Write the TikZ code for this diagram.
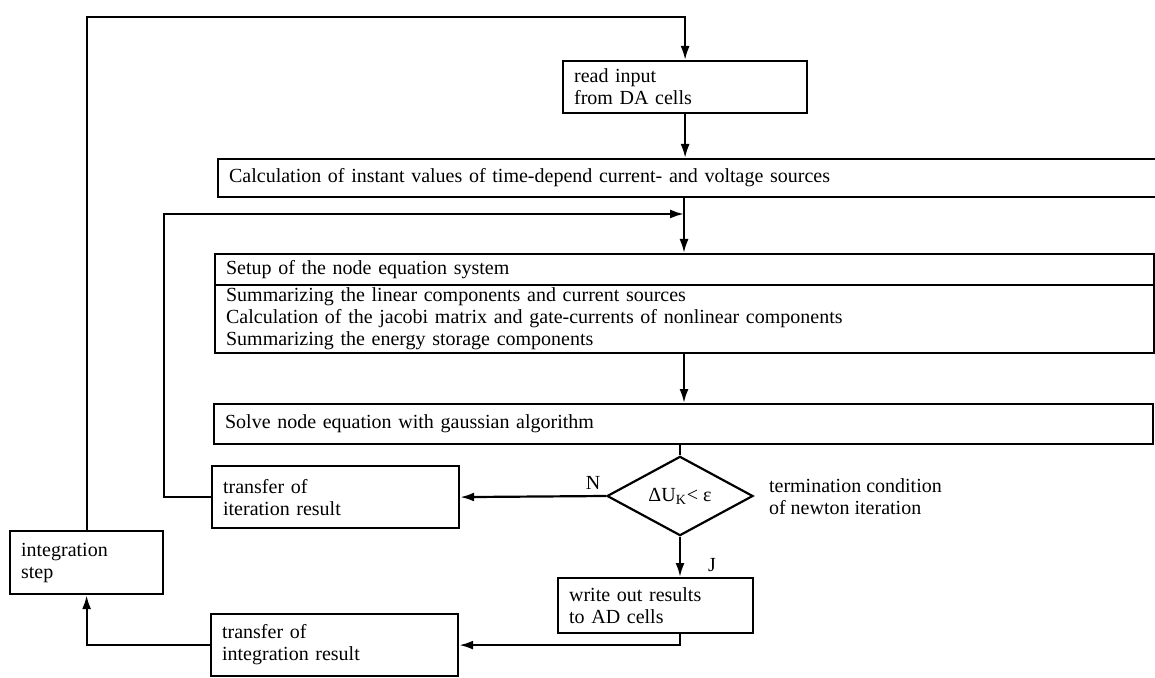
\documentclass[tikz,border=0pt]{standalone}
\usepackage{fontspec}
\setmainfont{Liberation Serif}
\usetikzlibrary{shapes.geometric,arrows.meta}
\tikzset{
    box/.style={draw, line width=1.1pt, anchor=north west, align=left,
        inner xsep=5.5pt, inner ysep=0pt},
    flow/.style={line width=1.1pt, -{Latex[length=7pt,width=4.5pt]}},
}

\begin{document}
\begin{tikzpicture}[x=0.5pt, y=-0.5pt, font=\fontsize{10}{11}\selectfont]
    \useasboundingbox (0,0) rectangle (1155,678);
    \clip (0,0) rectangle (1155,678);
    \coordinate (Col) at (684,0);
    \coordinate (TopRail) at (0,17);
    \coordinate (LoopRail) at (164,214);
    % boxes
    \node[box, text width=111pt, minimum height=26pt] (ReadIn) at (562,60) {read input\\from DA cells};
    \node[box, text width=465.5pt, minimum height=19pt] (CalcSrc) at (217,158)
        {Calculation of instant values of time-depend current- and voltage sources};
    \node[box, text width=458.5pt, minimum height=15.5pt] (SetupHead) at (214,253)
        {Setup of the node equation system};
    \node[box, text width=458.5pt, minimum height=34pt] (SetupBody) at ([yshift=1.1pt]SetupHead.south west)
        {Summarizing the linear components and current sources\\
         Calculation of the jacobi matrix and gate-currents of nonlinear components\\
         Summarizing the energy storage components};
    \node[box, text width=458.5pt, minimum height=20pt] (Solve) at (213,403)
        {Solve node equation with gaussian algorithm};
    \node[diamond, draw, line width=1.1pt, inner sep=0pt, minimum width=73pt, minimum height=37pt]
        (Check) at (680,496) {ΔU\textsubscript{K}< ε};
    \node[box, text width=112.5pt, minimum height=31pt] (IterRes) at (211,465) {transfer of\\iteration result};
    \node[box, text width=65.5pt, minimum height=31.5pt] (IntStep) at (9,530) {integration\\step};
    \node[box, text width=86.5pt, minimum height=27.5pt] (WriteOut) at (557,577) {write out results\\to AD cells};
    \node[box, text width=112.5pt, minimum height=31pt] (IntRes) at (210,613) {transfer of\\integration result};
    \node (LabN) at (593,483) {N};
    \node (LabJ) at (712,565) {J};
    \node[anchor=west, align=left] (TermNote) at (762,497) {termination condition\\of newton iteration};
    % connectors
    \draw[flow] (IntStep.north) -- (IntStep.north |- TopRail) -| (ReadIn.north);
    \draw[flow] (ReadIn.south) -- (ReadIn.south |- CalcSrc.north);
    \draw[flow] (CalcSrc.south -| Col) -- (SetupHead.north -| Col);
    \draw[flow] (IterRes.west) -| (LoopRail) -- (LoopRail -| Col);
    \draw[flow] (SetupBody.south -| Col) -- (Solve.north -| Col);
    \draw[line width=1.1pt] (Solve.south -| Check) -- (Check.north);
    \draw[flow] (Check.west) -- (IterRes.east);
    \draw[flow] (Check.south) -- (Check.south |- WriteOut.north);
    \draw[flow] (WriteOut.south -| Check) |- (IntRes.east);
    \draw[flow] (IntRes.west) -| (IntStep.south);
\end{tikzpicture}
\end{document}
